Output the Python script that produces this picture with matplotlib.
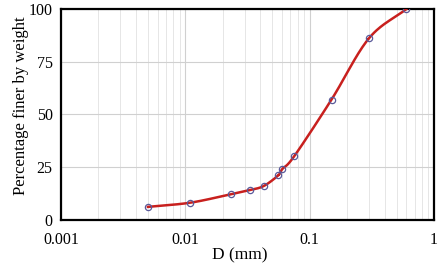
import numpy as np
import matplotlib
matplotlib.use("Agg")
import matplotlib.pyplot as plt
from matplotlib.ticker import FixedLocator, NullFormatter, FixedFormatter

diameter_mm = [0.005, 0.011, 0.0232, 0.0334, 0.043, 0.0559, 0.0603, 0.075, 0.150, 0.299, 0.60]
percent_finer = [6, 8, 12, 14, 16, 21, 24, 30, 57, 86, 100]
x_tick_values = [0.001, 0.01, 0.1, 1]
x_tick_labels = ["0.001", "0.01", "0.1", "1"]
y_tick_values = [0, 25, 50, 75, 100]

plt.rcParams['font.family'] = ['Liberation Serif', 'DejaVu Serif']

fig = plt.figure(figsize=(4.42, 2.65), dpi=100)
ax = fig.add_axes([61/442, 1-219.5/265, (434-61)/442, (219.5-9)/265])

# smooth curve (Catmull-Rom through data points in log-x space)
lx = np.log10(diameter_mm)
py = np.array(percent_finer, dtype=float)
P = np.column_stack([lx, py])
P = np.vstack([2*P[0]-P[1], P, 2*P[-1]-P[-2]])
xs, ys = [], []
for i in range(1, len(P)-2):
    p0, p1, p2, p3 = P[i-1], P[i], P[i+1], P[i+2]
    t = np.linspace(0, 1, 30)[:, None]
    c = 0.5*((2*p1) + (-p0+p2)*t + (2*p0-5*p1+4*p2-p3)*t**2 + (-p0+3*p1-3*p2+p3)*t**3)
    xs.extend(c[:, 0]); ys.extend(c[:, 1])
ax.plot(10**np.array(xs), ys, color='#C8201E', lw=1.8, zorder=3)
ax.plot(diameter_mm, percent_finer, 'o', ms=4.5, mfc='none', mec='#5A5A9A', mew=0.9, zorder=4)

ax.set_xscale('log')
ax.set_xlim(0.001, 1)
ax.set_ylim(0, 100)
ax.xaxis.set_major_locator(FixedLocator(x_tick_values))
ax.xaxis.set_major_formatter(FixedFormatter(x_tick_labels))
ax.xaxis.set_minor_locator(FixedLocator([m*10.0**e for e in (-3, -2, -1) for m in range(2, 10)]))
ax.xaxis.set_minor_formatter(NullFormatter())
ax.set_yticks(y_tick_values)
ax.grid(True, which='major', color='#D0D0D0', lw=0.8)
ax.grid(True, which='minor', axis='x', color='#E6E6E6', lw=0.7)
ax.tick_params(which='both', length=0, labelsize=11.5)
ax.tick_params(axis='x', pad=9)
ax.tick_params(axis='y', pad=6)
for s in ax.spines.values():
    s.set_linewidth(1.6)
    s.set_color('black')
ax.set_xlabel('D (mm)', fontsize=12.5)
ax.set_ylabel('Percentage finer by weight', fontsize=12)
ax.xaxis.label.set_va('center')
ax.yaxis.label.set_va('center')
ax.xaxis.set_label_coords(0.48, -0.169)
ax.yaxis.set_label_coords(-0.108, 0.54)
ax.set_axisbelow(True)

fig.savefig('out.png', dpi=100)
